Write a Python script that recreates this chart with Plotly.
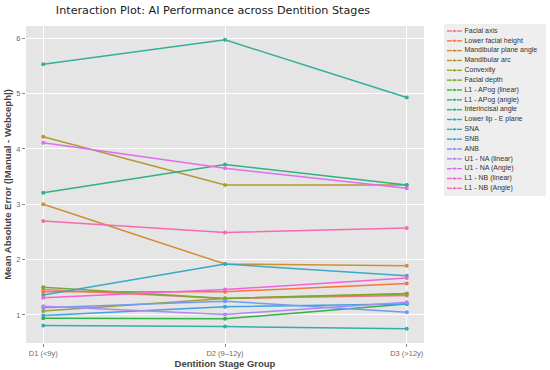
import math
import plotly.graph_objects as go

# ---------------- data ----------------
stages = ["D1 (<9y)", "D2 (9–12y)", "D3 (>12y)"]
measures = ["Facial axis", "Lower facial height", "Mandibular plane angle", "Mandibular arc",
            "Convexity", "Facial depth", "L1 - APog (linear)", "L1 - APog (angle)",
            "Interincisal angle", "Lower lip - E plane", "SNA", "SNB", "ANB",
            "U1 - NA (linear)", "U1 - NA (Angle)", "L1 - NB (linear)", "L1 - NB (Angle)"]

facial_axis = [1.46, 1.30, 1.35]
lower_facial_height = [1.42, 1.42, 1.57]
mandibular_plane_angle = [3.00, 1.92, 1.89]
mandibular_arc = [4.22, 3.35, 3.35]
convexity = [1.07, 1.30, 1.38]
facial_depth = [1.50, 1.30, 1.39]
l1_apog_linear = [0.94, 0.93, 1.20]
l1_apog_angle = [3.21, 3.72, 3.35]
interincisal_angle = [5.53, 5.97, 4.93]
lower_lip_e_plane = [0.81, 0.79, 0.75]
sna = [1.36, 1.92, 1.71]
snb = [0.99, 1.15, 1.20]
anb = [1.13, 1.25, 1.05]
u1_na_linear = [1.16, 1.01, 1.23]
u1_na_angle = [4.11, 3.65, 3.29]
l1_nb_linear = [1.31, 1.46, 1.67]
l1_nb_angle = [2.70, 2.49, 2.57]

values = [facial_axis, lower_facial_height, mandibular_plane_angle, mandibular_arc,
          convexity, facial_depth, l1_apog_linear, l1_apog_angle, interincisal_angle,
          lower_lip_e_plane, sna, snb, anb, u1_na_linear, u1_na_angle,
          l1_nb_linear, l1_nb_angle]

y_ticks = [1, 2, 3, 4, 5, 6]

# ---------------- husl palette (seaborn style) ----------------
M = [[3.2406, -1.5372, -0.4986], [-0.9689, 1.8758, 0.0415], [0.0557, -0.2040, 1.0570]]
REF_U, REF_V = 0.19784, 0.46834


def max_chroma(L, H):
    hr = math.radians(H)
    sH, cH = math.sin(hr), math.cos(hr)
    sub1 = (L + 16) ** 3 / 1560896.0
    sub2 = sub1 if sub1 > 0.008856 else L / 903.3
    res = float("inf")
    for m1, m2, m3 in M:
        top = (0.99915 * m1 + 1.05122 * m2 + 1.14460 * m3) * sub2
        rb = 0.86330 * m3 - 0.17266 * m2
        lb = 0.12949 * m3 - 0.38848 * m1
        bottom = (rb * sH + lb * cH) * sub2
        for t in (0.0, 1.0):
            C = L * (top - 1.05122 * t) / (bottom + 0.17266 * sH * t)
            if 0 < C < res:
                res = C
    return res


def husl_hex(H, S, L):
    C = max_chroma(L, H) / 100.0 * S
    U = math.cos(math.radians(H)) * C
    V = math.sin(math.radians(H)) * C
    t = (L + 16.0) / 116.0
    Y = t ** 3 if t ** 3 > 0.008856 else (116 * t - 16) / 903.3
    vu = U / (13.0 * L) + REF_U
    vv = V / (13.0 * L) + REF_V
    X = -(9.0 * Y * vu) / ((vu - 4.0) * vv - vu * vv)
    Z = (9.0 * Y - 15.0 * vv * Y - vv * X) / (3.0 * vv)
    out = []
    for row in M:
        c = row[0] * X + row[1] * Y + row[2] * Z
        c = 12.92 * c if c <= 0.0031308 else 1.055 * c ** (1 / 2.4) - 0.055
        c = min(max(c, 0.0), 1.0)
        out.append(int(round(c * 255)))
    return "#%02x%02x%02x" % tuple(out)


n = len(measures)
colors = [husl_hex(((i / n + 0.01) % 1) * 359, 0.9 * 99, 0.65 * 99) for i in range(n)]

fig = go.Figure()
for name, vals, col in zip(measures, values, colors):
    fig.add_trace(go.Scatter(
        x=stages, y=vals, mode="lines+markers", name=name,
        line=dict(color=col, width=1.5), marker=dict(color=col, size=4),
        showlegend=False, xaxis="x", yaxis="y"))

# custom compact legend drawn on helper axes
KEY_X = [3, 10.5, 18]
TEXT_X = 20.5
for i, col in enumerate(colors):
    fig.add_trace(go.Scatter(
        x=KEY_X, y=[i] * 3, mode="lines+markers",
        line=dict(color=col, width=1.4), marker=dict(color=col, size=[0, 4, 0]),
        showlegend=False, hoverinfo="skip", xaxis="x2", yaxis="y2"))
fig.add_trace(go.Scatter(
    x=[TEXT_X] * n, y=list(range(n)), text=measures, mode="text",
    textposition="middle right",
    textfont=dict(family="Liberation Sans, Arial, sans-serif", size=7, color="#333333"),
    showlegend=False, hoverinfo="skip", xaxis="x2", yaxis="y2"))

axis_font = dict(family="Liberation Sans, Arial, sans-serif", size=7.5, color="#6a6a6a")
title_font = dict(family="Liberation Sans, Arial, sans-serif", size=9.5, color="#444444", weight="bold")

fig.update_layout(
    width=550, height=370,
    margin=dict(l=26, r=4, t=24, b=27, autoexpand=False),
    paper_bgcolor="white", plot_bgcolor="#E5E5E5",
    title=dict(text="Interaction Plot: AI Performance across Dentition Stages",
               font=dict(family="DejaVu Sans", size=11.2, color="#1a1a1a"),
               x=213 / 550, xref="container", xanchor="center",
               y=1 - 10 / 370, yref="container", yanchor="middle", automargin=False),
    xaxis=dict(domain=[0, 0.7654], type="category", range=[-0.095, 2.095],
               showgrid=True, gridcolor="white", gridwidth=1, zeroline=False,
               showline=False, ticks="outside", ticklen=3, tickcolor="#888888",
               tickfont=axis_font, automargin=False,
               title=dict(text="Dentition Stage Group", font=title_font, standoff=3)),
    yaxis=dict(domain=[0, 0.9937], range=[0.494, 6.22], tickvals=y_ticks,
               showgrid=True, gridcolor="white", gridwidth=1, zeroline=False,
               showline=False, ticks="outside", ticklen=3, tickcolor="#888888",
               tickfont=axis_font, automargin=False,
               title=dict(text="Mean Absolute Error (|Manual - Webceph|)", font=title_font, standoff=2)),
    xaxis2=dict(domain=[0.8038, 1.0], range=[0, 102], visible=False, fixedrange=True,
                anchor="y2"),
    yaxis2=dict(domain=[0.4608, 1.0], range=[16.78, -0.71], visible=False, fixedrange=True,
                anchor="x2"),
    shapes=[dict(type="rect", xref="x2 domain", yref="y2 domain", x0=0, x1=1, y0=0, y1=1,
                 fillcolor="#EEEEEE", line=dict(width=0), layer="below")],
)

fig.write_html("out.html", config={"displayModeBar": False},
               post_script="document.body.style.margin='0';")
